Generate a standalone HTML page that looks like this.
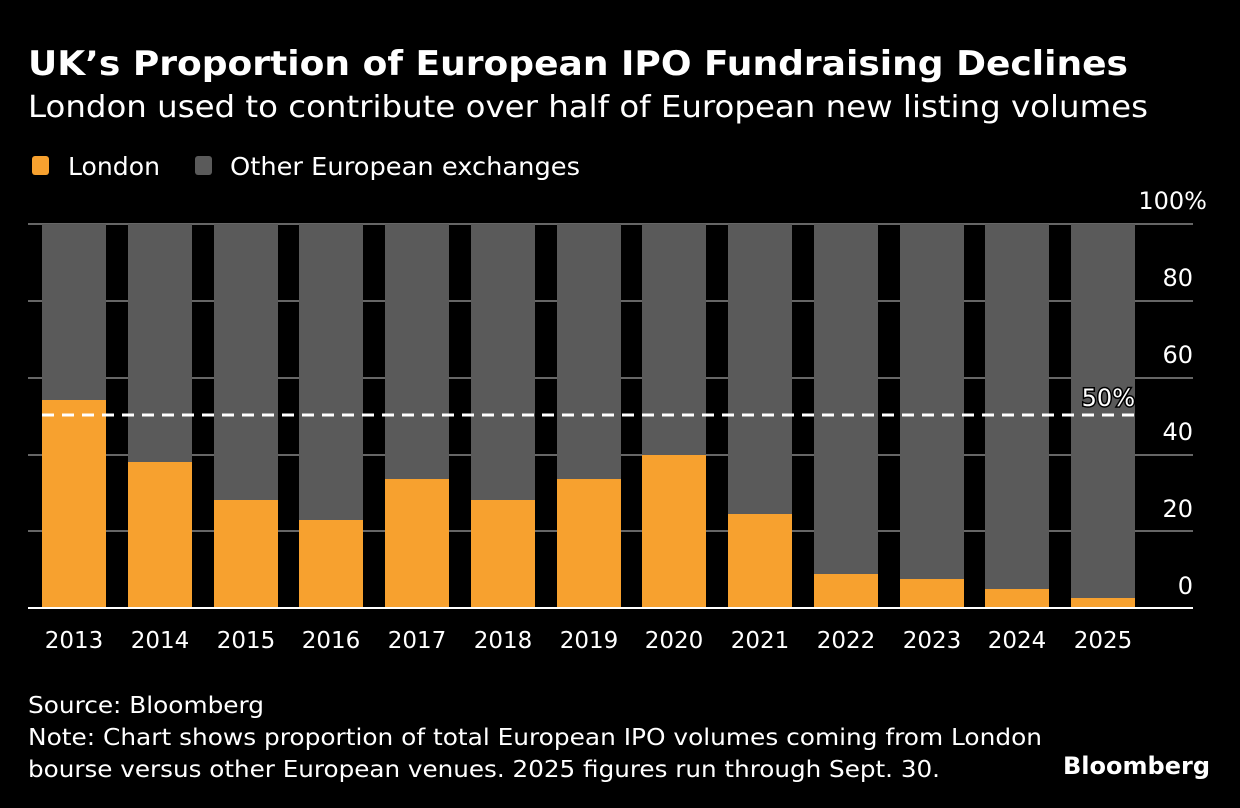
<!DOCTYPE html>
<html><head><meta charset="utf-8"><style>
html,body{margin:0;padding:0;background:#000;}
svg{display:block;font-family:"DejaVu Sans","Liberation Sans",sans-serif;}
</style></head><body>
<svg width="1240" height="808" viewBox="0 0 1240 808" xmlns="http://www.w3.org/2000/svg">
<rect width="1240" height="808" fill="#000"/>
<text x="28" y="75" fill="#fff" font-size="34" font-weight="bold" textLength="1100" lengthAdjust="spacingAndGlyphs">UK’s Proportion of European IPO Fundraising Declines</text>
<text x="28" y="117" fill="#fff" font-size="30" textLength="1120" lengthAdjust="spacingAndGlyphs">London used to contribute over half of European new listing volumes</text>
<rect x="32" y="156" width="17" height="19" rx="3" fill="#f7a12f"/>
<text x="68" y="175" fill="#fff" font-size="25" textLength="92" lengthAdjust="spacingAndGlyphs">London</text>
<rect x="195" y="156" width="17" height="19" rx="3" fill="#5a5a5a"/>
<text x="230" y="175" fill="#fff" font-size="25" textLength="350" lengthAdjust="spacingAndGlyphs">Other European exchanges</text>
<g stroke="#666" stroke-width="2">
<line x1="28" y1="224" x2="1193" y2="224"/>
<line x1="28" y1="301" x2="1193" y2="301"/>
<line x1="28" y1="378" x2="1193" y2="378"/>
<line x1="28" y1="455" x2="1193" y2="455"/>
<line x1="28" y1="531" x2="1193" y2="531"/>
</g>
<g font-size="24" fill="#fff" text-anchor="end">
<text x="1207" y="209">100%</text>
<text x="1193" y="286">80</text>
<text x="1193" y="363">60</text>
<text x="1193" y="440">40</text>
<text x="1193" y="517">20</text>
<text x="1193" y="594">0</text>
</g>
<g fill="#5a5a5a">
<rect x="42" y="224" width="64" height="384"/><rect x="128" y="224" width="64" height="384"/><rect x="214" y="224" width="64" height="384"/><rect x="299" y="224" width="64" height="384"/><rect x="385" y="224" width="64" height="384"/><rect x="471" y="224" width="64" height="384"/><rect x="557" y="224" width="64" height="384"/><rect x="642" y="224" width="64" height="384"/><rect x="728" y="224" width="64" height="384"/><rect x="814" y="224" width="64" height="384"/><rect x="900" y="224" width="64" height="384"/><rect x="985" y="224" width="64" height="384"/><rect x="1071" y="224" width="64" height="384"/>
</g>
<g fill="#f7a12f">
<rect x="42" y="400" width="64" height="208"/><rect x="128" y="462" width="64" height="146"/><rect x="214" y="500" width="64" height="108"/><rect x="299" y="520" width="64" height="88"/><rect x="385" y="479" width="64" height="129"/><rect x="471" y="500" width="64" height="108"/><rect x="557" y="479" width="64" height="129"/><rect x="642" y="455" width="64" height="153"/><rect x="728" y="514" width="64" height="94"/><rect x="814" y="574" width="64" height="34"/><rect x="900" y="579" width="64" height="29"/><rect x="985" y="589" width="64" height="19"/><rect x="1071" y="598" width="64" height="10"/>
</g>
<line x1="28" y1="608" x2="1193" y2="608" stroke="#fff" stroke-width="2"/>
<line x1="42" y1="415" x2="1135" y2="415" stroke="#fff" stroke-width="3" stroke-dasharray="12 8"/>
<text x="1135" y="406" fill="#fff" font-size="24" text-anchor="end" stroke="#000" stroke-width="3" paint-order="stroke">50%</text>
<g font-size="23" fill="#fff" text-anchor="middle">
<text x="74" y="648">2013</text><text x="160" y="648">2014</text><text x="246" y="648">2015</text><text x="331" y="648">2016</text><text x="417" y="648">2017</text><text x="503" y="648">2018</text><text x="589" y="648">2019</text><text x="674" y="648">2020</text><text x="760" y="648">2021</text><text x="846" y="648">2022</text><text x="932" y="648">2023</text><text x="1017" y="648">2024</text><text x="1103" y="648">2025</text>
</g>
<g font-size="23" fill="#fff">
<text x="28" y="713" textLength="236" lengthAdjust="spacingAndGlyphs">Source: Bloomberg</text>
<text x="28" y="745" textLength="1014" lengthAdjust="spacingAndGlyphs">Note: Chart shows proportion of total European IPO volumes coming from London</text>
<text x="28" y="777" textLength="912" lengthAdjust="spacingAndGlyphs">bourse versus other European venues. 2025 figures run through Sept. 30.</text>
</g>
<text x="1210" y="774" fill="#fff" font-size="24" font-weight="bold" text-anchor="end">Bloomberg</text>
</svg>
</body></html>
